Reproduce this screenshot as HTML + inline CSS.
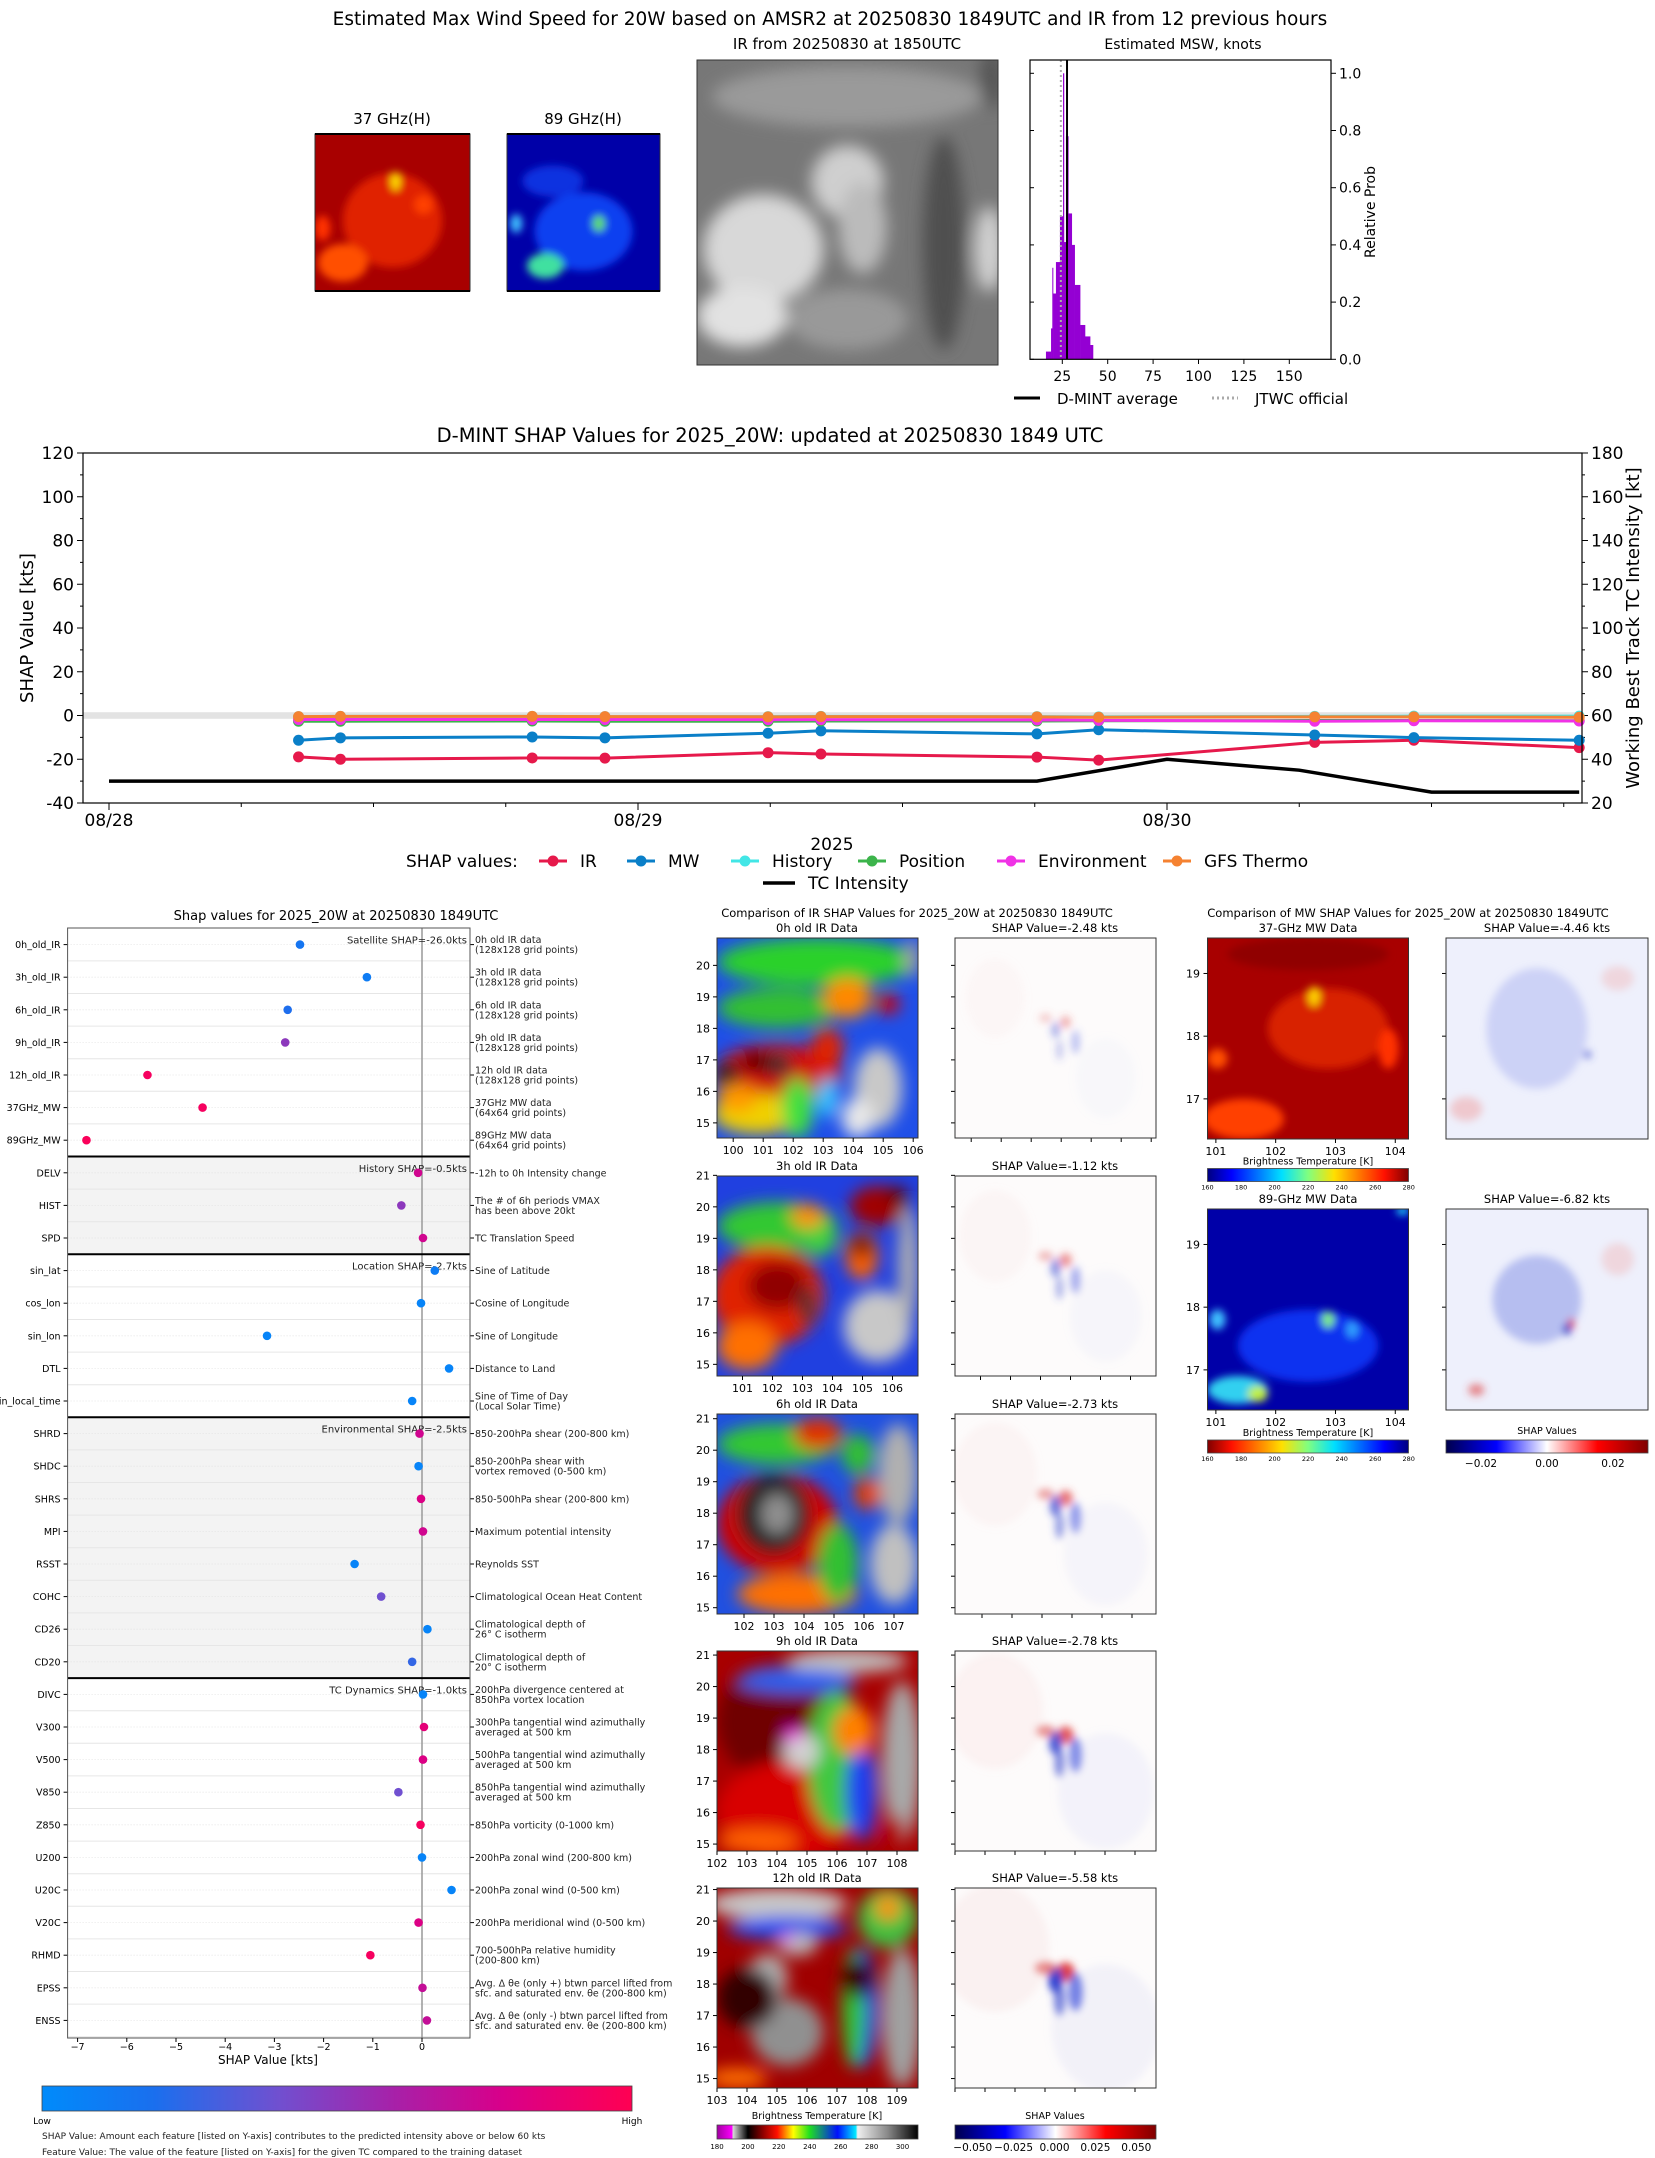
<!DOCTYPE html>
<html><head><meta charset="utf-8">
<style>
body{margin:0;background:#fff;width:1655px;height:2158px;overflow:hidden}
svg{display:block;font-family:"DejaVu Sans","Liberation Sans",sans-serif}
</style></head>
<body>
<svg id="fig" width="1655" height="2158" viewBox="0 0 1655 2158" xmlns="http://www.w3.org/2000/svg">
<defs>
<filter id="bl" x="-20%" y="-20%" width="140%" height="140%"><feGaussianBlur stdDeviation="8"/></filter>
<filter id="bls" x="-20%" y="-20%" width="140%" height="140%"><feGaussianBlur stdDeviation="4"/></filter>
<linearGradient id="gShap" x1="0" x2="1" y1="0" y2="0">
<stop offset="0" stop-color="#008bfb"/><stop offset="0.19" stop-color="#1a6fee"/><stop offset="0.4" stop-color="#7050d0"/><stop offset="0.6" stop-color="#a820a8"/><stop offset="0.78" stop-color="#d8008a"/><stop offset="1" stop-color="#ff0052"/></linearGradient>
<linearGradient id="gJet" x1="0" x2="1"><stop offset="0" stop-color="#00007f"/><stop offset="0.12" stop-color="#0000ff"/><stop offset="0.37" stop-color="#00e0ff"/><stop offset="0.5" stop-color="#80ff80"/><stop offset="0.63" stop-color="#ffe000"/><stop offset="0.88" stop-color="#ff1000"/><stop offset="1" stop-color="#7f0000"/></linearGradient>
<linearGradient id="gJetR" x1="1" x2="0"><stop offset="0" stop-color="#00007f"/><stop offset="0.12" stop-color="#0000ff"/><stop offset="0.37" stop-color="#00e0ff"/><stop offset="0.5" stop-color="#80ff80"/><stop offset="0.63" stop-color="#ffe000"/><stop offset="0.88" stop-color="#ff1000"/><stop offset="1" stop-color="#7f0000"/></linearGradient>
<linearGradient id="gIR" x1="0" x2="1">
<stop offset="0" stop-color="#a000a0"/><stop offset="0.077" stop-color="#ff00ff"/><stop offset="0.077" stop-color="#e0e0e0"/><stop offset="0.154" stop-color="#000"/><stop offset="0.23" stop-color="#900000"/><stop offset="0.3" stop-color="#ff1000"/><stop offset="0.38" stop-color="#ffff00"/><stop offset="0.46" stop-color="#20e020"/><stop offset="0.6" stop-color="#0010ff"/><stop offset="0.69" stop-color="#00e8ff"/><stop offset="0.7" stop-color="#f0f0f0"/><stop offset="0.85" stop-color="#888"/><stop offset="1" stop-color="#000"/></linearGradient>
<linearGradient id="gSeis" x1="0" x2="1"><stop offset="0" stop-color="#00004c"/><stop offset="0.25" stop-color="#0000ff"/><stop offset="0.5" stop-color="#ffffff"/><stop offset="0.75" stop-color="#ff0000"/><stop offset="1" stop-color="#800000"/></linearGradient>
</defs>
</svg>
<script>
// ---------------- DATA ----------------
const tsHours = [8.6,10.5,19.2,22.5,29.9,32.3,42.1,44.9,54.7,59.2,66.7];
const shapIR = [-18.9,-20,-19.4,-19.5,-17,-17.6,-19,-20.4,-12.3,-11.3,-14.7];
const shapMW = [-11.3,-10.2,-9.8,-10.2,-8.1,-7,-8.4,-6.5,-8.9,-10.1,-11.3];
const shapHist = [-0.5,-0.4,-0.4,-0.5,-0.5,-0.4,-0.5,-0.6,-0.4,-0.3,-0.3];
const shapPos = [-2.6,-2.6,-2.5,-2.6,-2.6,-2.5,-2.5,-2.4,-2.3,-2.3,-2.4];
const shapEnv = [-1.8,-1.8,-1.8,-1.8,-1.9,-1.9,-2,-2.2,-2.6,-2.4,-2.5];
const shapGFS = [-0.5,-0.4,-0.4,-0.5,-0.6,-0.5,-0.6,-0.8,-0.6,-0.6,-0.8];
const tcHours = [0,42.1,48,54,60,66.7];
const tcInt = [30,30,40,35,25,25];
const dayLabels = ['08/28','08/29','08/30'];
const binEdges = [16,18.8,19.5,19.9,21.5,23.7,25.4,25.9,27,28.3,30.2,31.8,34.8,37.5,40.3,41.9];
const binProb = [0.027,0.108,0.32,0.23,0.34,0.5,1.0,0.41,0.78,0.51,0.4,0.26,0.12,0.08,0.05];
const dmintAvg = 27.6;
const jtwcOfficial = 24.2;
const histXTicks = [25,50,75,100,125,150];
const histYTicks = [0,0.2,0.4,0.6,0.8,1.0];
const featNames = ['0h_old_IR','3h_old_IR','6h_old_IR','9h_old_IR','12h_old_IR','37GHz_MW','89GHz_MW','DELV','HIST','SPD','sin_lat','cos_lon','sin_lon','DTL','sin_local_time','SHRD','SHDC','SHRS','MPI','RSST','COHC','CD26','CD20','DIVC','V300','V500','V850','Z850','U200','U20C','V20C','RHMD','EPSS','ENSS'];
const featShap = [-2.48,-1.12,-2.73,-2.78,-5.58,-4.46,-6.82,-0.08,-0.42,0.02,0.26,-0.02,-3.15,0.55,-0.2,-0.05,-0.07,-0.02,0.02,-1.37,-0.83,0.11,-0.2,0.02,0.04,0.02,-0.48,-0.03,0,0.6,-0.07,-1.05,0.01,0.1];
const featVal = [0.15,0.1,0.2,0.5,0.95,0.95,0.97,0.75,0.5,0.75,0.1,0.05,0.05,0.05,0.05,0.75,0.05,0.8,0.75,0.05,0.4,0.05,0.25,0.05,0.85,0.8,0.4,0.95,0.05,0.05,0.8,0.95,0.7,0.7];
const featDesc = ['0h old IR data|(128x128 grid points)','3h old IR data|(128x128 grid points)','6h old IR data|(128x128 grid points)','9h old IR data|(128x128 grid points)','12h old IR data|(128x128 grid points)','37GHz MW data|(64x64 grid points)','89GHz MW data|(64x64 grid points)','-12h to 0h Intensity change','The # of 6h periods VMAX|has been above 20kt','TC Translation Speed','Sine of Latitude','Cosine of Longitude','Sine of Longitude','Distance to Land','Sine of Time of Day|(Local Solar Time)','850-200hPa shear (200-800 km)','850-200hPa shear with|vortex removed (0-500 km)','850-500hPa shear (200-800 km)','Maximum potential intensity','Reynolds SST','Climatological Ocean Heat Content','Climatological depth of|26° C isotherm','Climatological depth of|20° C isotherm','200hPa divergence centered at|850hPa vortex location','300hPa tangential wind azimuthally|averaged at 500 km','500hPa tangential wind azimuthally|averaged at 500 km','850hPa tangential wind azimuthally|averaged at 500 km','850hPa vorticity (0-1000 km)','200hPa zonal wind (200-800 km)','200hPa zonal wind (0-500 km)','200hPa meridional wind (0-500 km)','700-500hPa relative humidity|(200-800 km)','Avg. Δ θe (only +) btwn parcel lifted from|sfc. and saturated env. θe (200-800 km)','Avg. Δ θe (only -) btwn parcel lifted from|sfc. and saturated env. θe (200-800 km)'];
const groupStart = [0,7,10,15,23];
const groupEnd = [6,9,14,22,33];
const groupLabel = ['Satellite SHAP=-26.0kts','History SHAP=-0.5kts','Location SHAP=-2.7kts','Environmental SHAP=-2.5kts','TC Dynamics SHAP=-1.0kts'];
const groupShaded = [false,true,false,true,false];
const shapXTicks = [-7,-6,-5,-4,-3,-2,-1,0];
const irShapTitles = ['SHAP Value=-2.48 kts','SHAP Value=-1.12 kts','SHAP Value=-2.73 kts','SHAP Value=-2.78 kts','SHAP Value=-5.58 kts'];

// ---------------- HELPERS ----------------
const NS='http://www.w3.org/2000/svg';
const svg=document.getElementById('fig');
function mk(p,tag,a,txt){const e=document.createElementNS(NS,tag);for(const k in a)e.setAttribute(k,a[k]);if(txt!==undefined)e.textContent=txt;p.appendChild(e);return e;}
function grp(p){return mk(p,'g',{});}
function tx(p,x,y,s,size,anchor,extra){const a={x:x,y:y,'font-size':size,'text-anchor':anchor||'start',fill:'#000'};if(extra)for(const k in extra)a[k]=extra[k];return mk(p,'text',a,s);}
function ln(p,x1,y1,x2,y2,st,w){return mk(p,'line',{x1:x1,y1:y1,x2:x2,y2:y2,stroke:st||'#000','stroke-width':w||1});}

let e=tx(svg,830,25,'Estimated Max Wind Speed for 20W based on AMSR2 at 20250830 1849UTC and IR from 12 previous hours',18.5,'middle');



function drawImg(p,x,y,w,h,base,blobs,blur){
  const s=mk(p,'svg',{x:x,y:y,width:w,height:h,viewBox:'0 0 '+w+' '+h});
  mk(s,'rect',{x:0,y:0,width:w,height:h,fill:base});
  const g=mk(s,'g',{filter:blur?'url(#bls)':'url(#bl)'});
  blobs.forEach(b=>{mk(g,'ellipse',{cx:b[1]*w,cy:b[2]*h,rx:b[3]*w,ry:b[4]*h,fill:b[0],opacity:b[5]===undefined?1:b[5]});});
  mk(p,'rect',{x:x,y:y,width:w,height:h,fill:'none',stroke:'#333','stroke-width':1});
  return s;
}

let g37=grp(svg);


drawImg(g37,315,134,155,157,'#a80000',[['#e02000',0.5,0.55,0.32,0.3],['#ff5000',0.18,0.82,0.16,0.12],['#ff3000',0.05,0.6,0.05,0.08],['#ffe000',0.52,0.3,0.03,0.06],['#ff4000',0.7,0.45,0.06,0.06]],true);
ln(g37,315,134,470,134,'#000',2);ln(g37,315,291,470,291,'#000',2);
e=tx(svg,392,124,'37 GHz(H)',15,'middle');


let g89=grp(svg);


drawImg(g89,507,134,153,157,'#0000a8',[['#1040f0',0.5,0.62,0.32,0.25],['#40e0a0',0.25,0.84,0.12,0.08],['#60e060',0.6,0.57,0.04,0.05],['#40c0ff',0.06,0.57,0.04,0.06],['#1030e0',0.3,0.3,0.2,0.1]],true);
ln(g89,507,134,660,134,'#000',2);ln(g89,507,291,660,291,'#000',2);
e=tx(svg,583,124,'89 GHz(H)',15,'middle');


let gIRt=grp(svg);


drawImg(gIRt,697,60,301,305,'#777',[['#9a9a9a',0.5,0.12,0.45,0.1],['#d8d8d8',0.22,0.62,0.2,0.18],['#e2e2e2',0.15,0.84,0.15,0.1],['#cfcfcf',0.5,0.4,0.12,0.12],['#d0d0d0',0.97,0.62,0.05,0.14],['#505050',0.82,0.6,0.07,0.35],['#555',0.98,0.06,0.04,0.1],['#999',0.5,0.85,0.2,0.1],['#bbb',0.55,0.55,0.08,0.15]]);
e=tx(svg,847,49,'IR from 20250830 at 1850UTC',15,'middle');



const hG=grp(svg);


const hx=v=>1062.3+(v-25)*1.816, hy=v=>359.3-v*286;
binProb.forEach((p,i)=>{
  const b=mk(hG,'rect',{x:hx(binEdges[i]),y:hy(p),width:hx(binEdges[i+1])-hx(binEdges[i])+0.3,height:hy(0)-hy(p),fill:'#9400d3'});
  
  
});
e=ln(hG,hx(jtwcOfficial),60,hx(jtwcOfficial),359,'#aaa',2);e.setAttribute('stroke-dasharray','2,3');


e=ln(hG,hx(dmintAvg),60,hx(dmintAvg),359,'#000',2);


mk(hG,'rect',{x:1030,y:60,width:301,height:299.3,fill:'none',stroke:'#000','stroke-width':1.2});
histXTicks.forEach(v=>{ln(hG,hx(v),359,hx(v),364);
  const t=tx(hG,hx(v),381,String(v),14,'middle');
  
  });
histYTicks.forEach(v=>{ln(hG,1331,hy(v),1336,hy(v));ln(hG,1030,hy(v),1034,hy(v));
  const t=tx(hG,1339,hy(v)+5,v.toFixed(1),14,'start');
  
  });
e=tx(hG,1183,49,'Estimated MSW, knots',14,'middle');


e=tx(hG,0,0,'Relative Prob',14,'middle',{transform:'translate(1375,212) rotate(-90)'});


ln(hG,1014,398,1040,398,'#000',3);
e=tx(hG,1057,404,'D-MINT average',15,'start');


e=ln(hG,1212,398,1238,398,'#aaa',3);e.setAttribute('stroke-dasharray','2,3');
e=tx(hG,1255,404,'JTWC official',15,'start');



const tG=grp(svg);


const L=83,R=1582,TOP=453,BOT=803;
const tx_=h=>109+(h/24)*529;
const ty=v=>BOT-(v+40)*2.1875;
const tyR=v=>BOT-(v-20)*2.1875;
e=mk(tG,'rect',{x:L,y:ty(1.5),width:R-L,height:ty(-1.5)-ty(1.5),fill:'#e3e3e3'});


for(let v=-40;v<=120;v+=10){ln(tG,L-(v%20===0?6:3),ty(v),L,ty(v));
  if(v%20===0){const t=tx(tG,L-9,ty(v)+6,String(v),17,'end');
  
  }}
for(let v=20;v<=180;v+=10){ln(tG,R,tyR(v),R+(v%20===0?6:3),tyR(v));
  if(v%20===0){const t=tx(tG,R+9,tyR(v)+6,String(v),17,'start');
  
  }}
for(let h=0;h<=66;h+=6){ln(tG,tx_(h),BOT,tx_(h),BOT+(h%24===0?7:4));}
dayLabels.forEach((d,i)=>{const t=tx(tG,tx_(i*24),826,d,17,'middle');
  
  });
e=tx(tG,832,850,'2025',17,'middle');


e=tx(tG,0,0,'SHAP Value [kts]',18,'middle',{transform:'translate(33,628) rotate(-90)'});


e=tx(tG,0,0,'Working Best Track TC Intensity [kt]',18,'middle',{transform:'translate(1639,628) rotate(-90)'});


e=tx(tG,770,442,'D-MINT SHAP Values for 2025_20W: updated at 20250830 1849 UTC',19.5,'middle');


const series=[[shapIR,'#e6194b','ir'],[shapMW,'#0a7fc8','mw'],[shapHist,'#42e6e6','history'],[shapPos,'#3cb44b','position'],[shapEnv,'#f032e6','environment'],[shapGFS,'#f58231','gfs-thermo']];
series.forEach(s=>{
  const pts=tsHours.map((h,i)=>tx_(h)+','+ty(s[0][i])).join(' ');
  const pl=mk(tG,'polyline',{points:pts,fill:'none',stroke:s[1],'stroke-width':3});
  
  
  tsHours.forEach((h,i)=>{const c=mk(tG,'circle',{cx:tx_(h),cy:ty(s[0][i]),r:5.5,fill:s[1]});
    
    });
});
e=mk(tG,'polyline',{points:tcHours.map((h,i)=>tx_(h)+','+tyR(tcInt[i])).join(' '),fill:'none',stroke:'#000','stroke-width':3.5});


mk(tG,'rect',{x:L,y:TOP,width:R-L,height:BOT-TOP,fill:'none',stroke:'#000','stroke-width':1.2});
e=tx(tG,406,867,'SHAP values:',17,'start');


const legX=[553,641,745,872,1011,1177];
const legT=['IR','MW','History','Position','Environment','GFS Thermo'];
series.forEach((s,i)=>{const lg=grp(tG);
  
  
  ln(lg,legX[i]-14,861,legX[i]+14,861,s[1],3);mk(lg,'circle',{cx:legX[i],cy:861,r:5.5,fill:s[1]});
  tx(lg,legX[i]+27,867,legT[i],17,'start');});
e=grp(tG);


ln(e,763,883,795,883,'#000',3.5);tx(e,808,889,'TC Intensity',17,'start');

const fG=grp(svg);


const FL=67.6,FR=470,FT=928,FB=2038;
const fx=v=>422+v*49.2, fy=i=>944.6+i*32.6;
function shapColor(t){const st=[[0,[0,139,251]],[0.19,[26,111,238]],[0.4,[112,80,208]],[0.6,[168,32,168]],[0.78,[216,0,138]],[1,[255,0,82]]];
  for(let k=1;k<st.length;k++){if(t<=st[k][0]){const a=st[k-1],b=st[k],f=(t-a[0])/(b[0]-a[0]);return 'rgb('+a[1].map((c,j)=>Math.round(c+(b[1][j]-c)*f)).join(',')+')';}}return 'rgb(255,0,82)';}
groupStart.forEach((s,gi)=>{
  const y0=fy(s)-16.3,y1=fy(groupEnd[gi])+16.3;
  const r=mk(fG,'rect',{x:FL,y:y0,width:FR-FL,height:y1-y0,fill:groupShaded[gi]?'#f3f3f3':'#fff'});
  
  
});
featNames.forEach((n,i)=>{
  ln(fG,FL,fy(i)+16.3,FR,fy(i)+16.3,'#e6e6e6',1);
  const d=ln(fG,FL,fy(i),FR,fy(i),'#e0e0e0',0.8);d.setAttribute('stroke-dasharray','1,2');
  ln(fG,FL-4,fy(i),FL,fy(i));ln(fG,FR,fy(i),FR+4,fy(i));
  const t=tx(fG,FL-7,fy(i)+3.5,n,9.5,'end');
  
  
  const parts=featDesc[i].split('|');
  parts.forEach((p,k)=>{const dt=tx(fG,475,fy(i)+3.5+(parts.length===2?(k===0?-5:5):0),p,9.5,'start',{fill:'#222'});
    
    });
});
ln(fG,fx(0),FT,fx(0),FB,'#999',1.5);
groupStart.forEach((s,gi)=>{
  if(gi>0)ln(fG,FL,fy(s)-16.3,FR,fy(s)-16.3,'#000',2);
  const t=tx(fG,467,fy(s)-1,groupLabel[gi],10,'end',{fill:'#222'});
  
  
});
featShap.forEach((v,i)=>{const c=mk(fG,'circle',{cx:fx(v),cy:fy(i),r:4.3,fill:shapColor(featVal[i])});
  
  });
mk(fG,'rect',{x:FL,y:FT,width:FR-FL,height:FB-FT,fill:'none',stroke:'#555','stroke-width':1});
shapXTicks.forEach(v=>{ln(fG,fx(v),FB,fx(v),FB+4);
  const t=tx(fG,fx(v),FB+12,String(v).replace('-','−'),9.5,'middle');
  
  });
e=tx(fG,268,2064,'SHAP Value [kts]',12,'middle');


e=tx(fG,336,920,'Shap values for 2025_20W at 20250830 1849UTC',13,'middle');


e=mk(fG,'rect',{x:42,y:2086,width:590,height:25,fill:'url(#gShap)',stroke:'#444','stroke-width':0.8});


tx(fG,42,2124,'Low',9,'middle');tx(fG,632,2124,'High',9,'middle');
e=tx(fG,42,2139,'SHAP Value: Amount each feature [listed on Y-axis] contributes to the predicted intensity above or below 60 kts',9,'start',{fill:'#222'});


e=tx(fG,42,2155,'Feature Value: The value of the feature [listed on Y-axis] for the given TC compared to the training dataset',9,'start',{fill:'#222'});



const iG=grp(svg);


e=tx(iG,917,917,'Comparison of IR SHAP Values for 2025_20W at 20250830 1849UTC',11.5,'middle');


const irTitles=['0h old IR Data','3h old IR Data','6h old IR Data','9h old IR Data','12h old IR Data'];
const irTops=[938,1176,1414,1651,1888];
const lon0=[99.46,100.15,101.1,102.0,103.0];
const lat0=[14.52,14.63,14.8,14.78,14.7];
const irBlobs=[
 [['#2bd12b',0.5,0.12,0.5,0.12],['#30c030',0.3,0.35,0.3,0.1],['#ff8800',0.65,0.3,0.12,0.1],['#d00000',0.85,0.33,0.06,0.05],['#d01010',0.3,0.68,0.32,0.15],['#e02000',0.55,0.55,0.08,0.1],['#202020',0.05,0.68,0.06,0.07],['#303030',0.3,0.63,0.07,0.06],['#500000',0.2,0.62,0.08,0.05],['#f0d000',0.2,0.88,0.22,0.1],['#ff9900',0.1,0.8,0.1,0.07],['#40e040',0.4,0.85,0.08,0.15],['#c8c8c8',0.8,0.75,0.12,0.2],['#e8e8e8',0.7,0.9,0.08,0.1],['#30c8ff',0.55,0.8,0.05,0.1],['#a0a0a0',0.97,0.1,0.04,0.1]],
 [['#30c830',0.3,0.25,0.3,0.12],['#e02000',0.25,0.6,0.28,0.25],['#900000',0.3,0.55,0.15,0.12],['#303030',0.45,0.65,0.04,0.1],['#a00000',0.8,0.15,0.14,0.1],['#600000',0.9,0.1,0.05,0.05],['#ff6000',0.72,0.4,0.08,0.12],['#700000',0.72,0.35,0.05,0.06],['#c8c8c8',0.8,0.75,0.17,0.18],['#b0b0b0',0.95,0.45,0.05,0.3],['#ff7000',0.15,0.85,0.15,0.12],['#40d040',0.5,0.3,0.1,0.1],['#ff9000',0.45,0.2,0.08,0.06]],
 [['#30c830',0.3,0.15,0.3,0.1],['#e03000',0.5,0.1,0.12,0.08],['#d00000',0.3,0.55,0.3,0.25],['#202020',0.28,0.5,0.18,0.2],['#909090',0.3,0.5,0.08,0.1],['#ff7000',0.4,0.9,0.3,0.1],['#30c030',0.6,0.75,0.1,0.2],['#b0b0b0',0.9,0.3,0.1,0.25],['#c0c0c0',0.88,0.75,0.12,0.2],['#e04000',0.75,0.4,0.07,0.08],['#30c030',0.7,0.2,0.08,0.1]],
 [['#700000',0.3,0.35,0.3,0.3],['#d80000',0.35,0.8,0.35,0.25],['#ff6000',0.2,0.95,0.2,0.06],['#40c840',0.6,0.55,0.15,0.35],['#2040f0',0.72,0.7,0.08,0.25],['#ff8000',0.68,0.4,0.1,0.12],['#a8a8a8',0.92,0.55,0.1,0.4],['#c0c0c0',0.65,0.05,0.3,0.06],['#2860f0',0.4,0.15,0.3,0.06],['#d0d0d0',0.42,0.5,0.09,0.09],['#ff00ff',0.38,0.42,0.04,0.03],['#b00000',0.88,0.9,0.06,0.08]],
 [['#c8c8c8',0.3,0.08,0.35,0.08],['#2050f0',0.35,0.2,0.3,0.06],['#40c040',0.85,0.15,0.15,0.15],['#ff9000',0.85,0.1,0.06,0.06],['#2050f0',0.72,0.6,0.08,0.3],['#30c030',0.68,0.6,0.06,0.3],['#a0a0a0',0.92,0.65,0.1,0.35],['#909090',0.35,0.72,0.18,0.17],['#b0b0b0',0.25,0.45,0.1,0.12],['#b8b8b8',0.4,0.28,0.1,0.06],['#ff00ff',0.35,0.26,0.03,0.02],['#300000',0.15,0.55,0.15,0.15],['#ff7000',0.1,0.95,0.15,0.05],['#300000',0.7,0.45,0.08,0.1]]];
const irBase=['#1f4fe8','#2040e0','#2050e0','#a80000','#a00000'];
const shapBlobs=[['#e04040',0.55,0.42,0.025,0.03,0.55],['#3040d0',0.5,0.46,0.02,0.04,0.55],['#e06060',0.45,0.4,0.03,0.02,0.45],['#5060e0',0.6,0.52,0.02,0.06,0.5],['#4050d0',0.52,0.56,0.015,0.05,0.45],['#f0c0c0',0.2,0.3,0.15,0.2,0.1],['#c0c8f0',0.75,0.7,0.15,0.2,0.1]];
irTitles.forEach((ti,k)=>{
  const y=irTops[k];
  const pg=grp(iG);
  
  
  drawImg(pg,717,y,201,200,irBase[k],irBlobs[k],false);
  tx(pg,817,y-6,ti,11.5,'middle');
  for(let lt=15;lt<=21;lt++){const yy=y+200-(lt-lat0[k])*31.5;if(yy>=y-1&&yy<=y+201){ln(pg,713,yy,717,yy);tx(pg,710,yy+4,String(lt),11,'end');ln(iG,951,yy,955,yy);}}
  for(let lo=100;lo<=110;lo++){const xx=717+(lo-lon0[k])*30;if(xx>=717&&xx<=918){ln(pg,xx,y+200,xx,y+204);tx(pg,xx,y+216,String(lo),11,'middle');ln(iG,xx+238,y+200,xx+238,y+204);}}
  const sg=grp(iG);
  
  
  drawImg(sg,955,y,201,200,'#fdfbfb',shapBlobs.map(b=>[b[0],b[1],b[2],b[3]*(1+k*0.2),b[4]*(1+k*0.15),Math.min(1,b[5]*(0.8+k*0.25))]),true);
  const st=tx(sg,1055,y-6,irShapTitles[k],11.5,'middle');
  
  
});
e=mk(iG,'rect',{x:717,y:2125,width:201,height:14,fill:'url(#gIR)',stroke:'#444','stroke-width':0.8});


tx(iG,817,2119,'Brightness Temperature [K]',9.5,'middle');
for(let v=180;v<=300;v+=20)tx(iG,717+(v-180)*1.546,2149,String(v),7,'middle');
e=mk(iG,'rect',{x:955,y:2125,width:201,height:14,fill:'url(#gSeis)',stroke:'#444','stroke-width':0.8});


tx(iG,1055,2119,'SHAP Values',9.5,'middle');
[-0.05,-0.025,0,0.025,0.05].forEach(v=>tx(iG,1054.5+v*1636,2151,v.toFixed(3).replace('-','−'),10.5,'middle'));

const mG=grp(svg);


e=tx(mG,1408,917,'Comparison of MW SHAP Values for 2025_20W at 20250830 1849UTC',11.5,'middle');


const mwTops=[938,1209];
const mwTitles=['37-GHz MW Data','89-GHz MW Data'];
const mwShapTitles=['SHAP Value=-4.46 kts','SHAP Value=-6.82 kts'];
const mwBase=['#a80000','#0000a8'];
const mwBlobs=[[['#d82000',0.6,0.45,0.3,0.2],['#ff4000',0.18,0.9,0.2,0.1],['#ff5000',0.05,0.6,0.05,0.05],['#ffd000',0.53,0.29,0.03,0.05],['#ff3000',0.9,0.55,0.05,0.1],['#900000',0.5,0.08,0.4,0.08]],
 [['#1030f0',0.5,0.68,0.35,0.18],['#40c0ff',0.05,0.55,0.04,0.05],['#80f080',0.6,0.55,0.03,0.04],['#30d0f0',0.15,0.9,0.15,0.07],['#c0f040',0.25,0.92,0.05,0.04],['#30a0ff',0.72,0.6,0.03,0.04],['#20e0ff',0.97,0.01,0.03,0.02]]];
const mwShapBlobs=[[['#9aa6ee',0.45,0.45,0.25,0.3,0.4],['#f0a0a0',0.1,0.85,0.08,0.06,0.5],['#f0b0b0',0.85,0.2,0.08,0.06,0.4],['#4050d0',0.7,0.58,0.02,0.02,0.7]],
 [['#7f8ee6',0.45,0.45,0.22,0.22,0.5],['#f0b0b0',0.85,0.25,0.08,0.08,0.4],['#e02020',0.62,0.57,0.015,0.025,0.9],['#2030c0',0.6,0.6,0.02,0.03,0.8],['#e04040',0.15,0.9,0.04,0.03,0.6]]];
mwTitles.forEach((ti,k)=>{
  const y=mwTops[k];
  const pg=grp(mG);
  
  
  drawImg(pg,1207.5,y,201,201,mwBase[k],mwBlobs[k],true);
  tx(pg,1308,y-6,ti,11.5,'middle');
  for(let lt=17;lt<=19;lt++){const yy=y+201-(lt-16.36)*62.7;ln(pg,1203.5,yy,1207.5,yy);tx(pg,1200,yy+4,String(lt),11,'end');ln(mG,1442,yy,1446,yy);}
  for(let lo=101;lo<=104;lo++){const xx=1207.5+(lo-100.86)*59.8;ln(pg,xx,y+201,xx,y+205);tx(pg,xx,y+217,String(lo),11,'middle');}
  const sg=grp(mG);
  
  
  drawImg(sg,1446,y,202,201,'#eef0fc',mwShapBlobs[k],true);
  const st=tx(sg,1547,y-6,mwShapTitles[k],11.5,'middle');
  
  
  const cy=k===0?1168.5:1440;
  const cb=mk(mG,'rect',{x:1207.5,y:cy,width:201,height:13,fill:k===0?'url(#gJet)':'url(#gJetR)',stroke:'#444','stroke-width':0.8});
  
  
  tx(mG,1308,cy-4,'Brightness Temperature [K]',9.5,'middle');
  for(let v=160;v<=280;v+=20)tx(mG,1207.5+(v-160)*1.677,cy+21,String(v),6.5,'middle');
});
e=mk(mG,'rect',{x:1446,y:1440,width:202,height:13,fill:'url(#gSeis)',stroke:'#444','stroke-width':0.8});


tx(mG,1547,1434,'SHAP Values',9.5,'middle');
[-0.02,0,0.02].forEach(v=>tx(mG,1547+v*3300,1467,v.toFixed(2).replace('-','−'),10.5,'middle'));
</script>
</body></html>
